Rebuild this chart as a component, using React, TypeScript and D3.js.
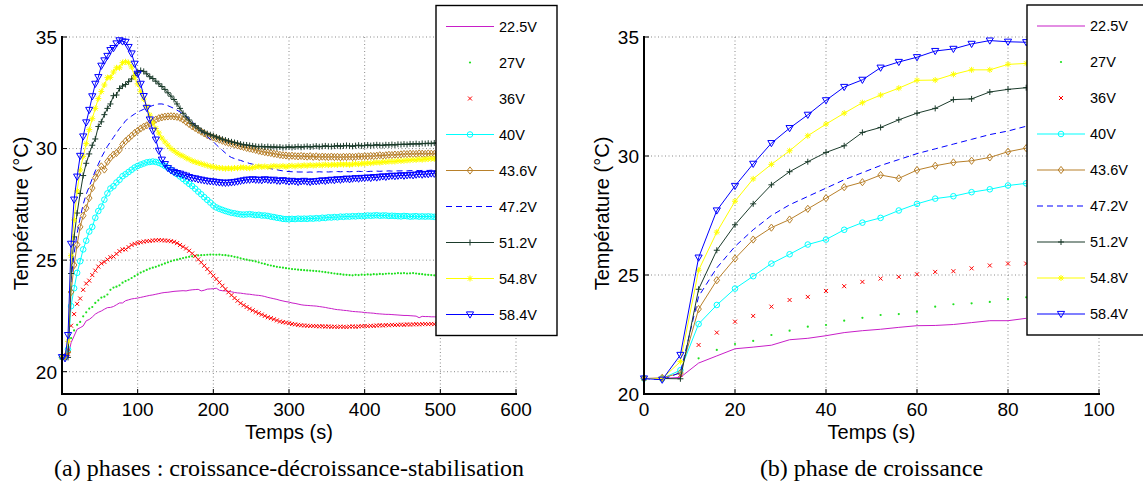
import React from 'react';
import * as d3 from 'd3';

// Sampling period of the measurements (s)
const T_STEP = 4;

const LABELS = ['22.5V', '27V', '36V', '40V', '43.6V', '47.2V', '51.2V', '54.8V', '58.4V'];

const V22_5 = [
  20.65, 20.65, 20.7, 21.3, 21.6, 21.9, 21.97, 22.05, 22.28, 22.34,
  22.45, 22.58, 22.66, 22.72, 22.8, 22.87, 22.88, 22.92, 23.0, 23.08,
  23.08, 23.18, 23.22, 23.26, 23.28, 23.3, 23.33, 23.36, 23.39, 23.42,
  23.44, 23.47, 23.5, 23.53, 23.55, 23.56, 23.58, 23.6, 23.61, 23.62,
  23.63, 23.62, 23.65, 23.67, 23.68, 23.69, 23.62, 23.65, 23.7, 23.71,
  23.72, 23.74, 23.65, 23.63, 23.62, 23.6, 23.58, 23.55, 23.53, 23.52,
  23.5, 23.48, 23.47, 23.45, 23.43, 23.42, 23.4, 23.37, 23.33, 23.3,
  23.27, 23.24, 23.2, 23.17, 23.14, 23.12, 23.08, 23.06, 23.03, 23.0,
  22.98, 22.97, 22.96, 22.95, 22.94, 22.92, 22.9, 22.88, 22.85, 22.83,
  22.8, 22.78, 22.77, 22.75, 22.74, 22.72, 22.7, 22.69, 22.68, 22.67,
  22.65, 22.64, 22.63, 22.62, 22.6, 22.59, 22.58, 22.57, 22.57, 22.56,
  22.55, 22.54, 22.53, 22.52, 22.52, 22.51, 22.5, 22.49, 22.42, 22.48,
  22.47, 22.47, 22.46, 22.46, 22.45,
];

const V27 = [
  20.65, 20.65, 20.9, 21.5, 21.85, 22.1, 22.23, 22.48, 22.66, 22.83,
  22.9, 23.08, 23.2, 23.32, 23.36, 23.46, 23.67, 23.77, 23.81, 23.87,
  23.99, 24.06, 24.12, 24.2, 24.28, 24.36, 24.44, 24.5, 24.56, 24.62,
  24.66, 24.7, 24.75, 24.8, 24.85, 24.9, 24.95, 24.99, 25.02, 25.06,
  25.09, 25.12, 25.15, 25.17, 25.19, 25.21, 25.22, 25.23, 25.24, 25.25,
  25.25, 25.24, 25.25, 25.23, 25.22, 25.2, 25.18, 25.15, 25.12, 25.08,
  25.05, 25.02, 24.99, 24.97, 24.94, 24.9, 24.86, 24.83, 24.79, 24.76,
  24.73, 24.7, 24.68, 24.66, 24.64, 24.62, 24.6, 24.59, 24.57, 24.56,
  24.55, 24.54, 24.53, 24.52, 24.51, 24.5, 24.48, 24.46, 24.44, 24.42,
  24.4, 24.38, 24.37, 24.35, 24.34, 24.33, 24.32, 24.34, 24.33, 24.35,
  24.34, 24.36, 24.35, 24.37, 24.36, 24.38, 24.37, 24.39, 24.4, 24.39,
  24.4, 24.42, 24.41, 24.42, 24.4, 24.41, 24.42, 24.4, 24.38, 24.37,
  24.35, 24.34, 24.33, 24.32, 24.33,
];

const V36 = [
  20.65, 20.65, 20.8, 22.06, 22.58, 23.04, 23.28, 23.67, 23.95, 24.08,
  24.33, 24.53, 24.71, 24.85, 24.92, 25.03, 25.13, 25.16, 25.28, 25.4,
  25.48, 25.48, 25.58, 25.68, 25.73, 25.77, 25.8, 25.83, 25.85, 25.86,
  25.88, 25.89, 25.9, 25.89, 25.88, 25.87, 25.85, 25.82, 25.76, 25.68,
  25.6, 25.52, 25.42, 25.3, 25.18, 25.03, 24.9, 24.75, 24.6, 24.45,
  24.3, 24.15, 24.0, 23.85, 23.7, 23.56, 23.43, 23.3, 23.18, 23.07,
  22.98, 22.9, 22.82, 22.75, 22.68, 22.62, 22.56, 22.5, 22.44, 22.4,
  22.35, 22.3, 22.25, 22.22, 22.2, 22.17, 22.14, 22.12, 22.1, 22.08,
  22.07, 22.06, 22.05, 22.05, 22.04, 22.03, 22.04, 22.02, 22.03, 22.01,
  22.02, 22.0, 22.02, 22.01, 22.0, 22.02, 22.03, 22.01, 22.03, 22.04,
  22.05, 22.04, 22.06, 22.05, 22.07, 22.08, 22.07, 22.09, 22.08, 22.1,
  22.09, 22.1, 22.11, 22.1, 22.12, 22.11, 22.12, 22.13, 22.12, 22.13,
  22.14, 22.13, 22.14, 22.13, 22.14,
];

const V40 = [
  20.65, 20.65, 21.0, 22.94, 23.74, 24.43, 24.95, 25.48, 25.87, 26.28,
  26.49, 26.9, 27.2, 27.4, 27.71, 27.99, 28.21, 28.31, 28.48, 28.6,
  28.76, 28.85, 28.95, 29.05, 29.15, 29.22, 29.28, 29.33, 29.38, 29.4,
  29.42, 29.4, 29.36, 29.3, 29.22, 29.14, 29.05, 28.95, 28.85, 28.75,
  28.64, 28.53, 28.42, 28.32, 28.2, 28.07, 27.95, 27.82, 27.7, 27.58,
  27.45, 27.36, 27.3, 27.25, 27.2, 27.16, 27.12, 27.1, 27.07, 27.05,
  27.04, 27.05, 27.06, 27.04, 27.02, 27.03, 27.0, 27.0, 26.98, 26.95,
  26.93, 26.9, 26.88, 26.85, 26.84, 26.83, 26.85, 26.84, 26.86, 26.85,
  26.86, 26.85, 26.87, 26.86, 26.88, 26.87, 26.9, 26.89, 26.92, 26.91,
  26.93, 26.92, 26.95, 26.94, 26.96, 26.95, 26.97, 26.96, 26.98, 26.97,
  26.98, 27.0, 26.99, 27.0, 27.01, 26.99, 27.0, 27.0, 26.98, 26.99,
  26.98, 26.97, 26.96, 26.98, 26.97, 26.95, 26.96, 26.97, 26.95, 26.96,
  26.95, 26.96, 26.95, 26.94, 26.95,
];

const V43_6 = [
  20.65, 20.68, 20.88, 23.57, 24.78, 25.69, 26.49, 26.99, 27.33, 27.78,
  28.23, 28.69, 28.9, 29.2, 29.06, 29.41, 29.59, 29.73, 29.8, 29.94,
  30.18, 30.33, 30.45, 30.58, 30.7, 30.8, 30.9, 30.98, 31.04, 31.12,
  31.2, 31.3, 31.36, 31.4, 31.43, 31.44, 31.45, 31.44, 31.42, 31.38,
  31.3, 31.2, 31.1, 31.0, 30.92, 30.84, 30.76, 30.68, 30.6, 30.54,
  30.5, 30.45, 30.4, 30.35, 30.3, 30.26, 30.22, 30.18, 30.14, 30.1,
  30.07, 30.03, 30.0, 29.97, 29.94, 29.9, 29.87, 29.84, 29.82, 29.8,
  29.77, 29.75, 29.72, 29.7, 29.69, 29.67, 29.68, 29.66, 29.65, 29.67,
  29.65, 29.64, 29.66, 29.63, 29.65, 29.62, 29.64, 29.63, 29.62, 29.64,
  29.62, 29.63, 29.61, 29.63, 29.62, 29.64, 29.62, 29.63, 29.65, 29.64,
  29.66, 29.65, 29.67, 29.66, 29.68, 29.7, 29.68, 29.7, 29.72, 29.71,
  29.73, 29.72, 29.74, 29.76, 29.75, 29.77, 29.76, 29.76, 29.78, 29.77,
  29.76, 29.78, 29.77, 29.76, 29.78,
];

const V47_2 = [
  20.65, 20.6, 20.9, 24.1, 25.3, 26.2, 26.9, 27.5, 27.95, 28.3,
  28.65, 29.0, 29.3, 29.6, 29.85, 30.1, 30.3, 30.5, 30.7, 30.9,
  31.05, 31.25, 31.35, 31.46, 31.55, 31.63, 31.7, 31.76, 31.82, 31.88,
  31.93, 31.97, 32.0, 32.0, 31.97, 31.92, 31.86, 31.8, 31.72, 31.64,
  31.55, 31.45, 31.33, 31.2, 31.07, 30.93, 30.8, 30.66, 30.53, 30.42,
  30.3, 30.17, 30.04, 29.92, 29.8, 29.68, 29.6, 29.55, 29.5, 29.47,
  29.42, 29.38, 29.33, 29.3, 29.27, 29.24, 29.2, 29.17, 29.14, 29.1,
  29.07, 29.05, 29.02, 29.0, 28.98, 28.97, 28.96, 28.96, 28.95, 28.95,
  28.95, 28.94, 28.95, 28.94, 28.95, 28.96, 28.95, 28.96, 28.95, 28.96,
  28.96, 28.97, 28.96, 28.97, 28.97, 28.96, 28.97, 28.97, 28.98, 28.97,
  28.98, 28.97, 28.98, 28.98, 28.99, 28.98, 28.99, 28.99, 29.0, 28.99,
  29.0, 29.0, 29.0, 29.01, 29.0, 29.01, 29.01, 29.02, 29.01, 29.02,
  29.02, 29.02, 29.03, 29.02, 29.03,
];

const V51_2 = [
  20.65, 20.65, 20.64, 24.4, 26.04, 27.11, 27.99, 28.79, 29.34, 29.76,
  30.15, 30.43, 30.99, 31.2, 31.52, 31.8, 32.0, 32.37, 32.4, 32.69,
  32.8, 32.87, 33.0, 33.12, 33.28, 33.42, 33.5, 33.46, 33.35, 33.22,
  33.14, 33.02, 32.9, 32.78, 32.65, 32.5, 32.35, 32.2, 32.0, 31.8,
  31.58, 31.42, 31.28, 31.12, 31.02, 30.92, 30.8, 30.73, 30.67, 30.62,
  30.57, 30.52, 30.47, 30.42, 30.38, 30.34, 30.3, 30.27, 30.24, 30.2,
  30.17, 30.16, 30.14, 30.12, 30.1, 30.08, 30.1, 30.07, 30.09, 30.06,
  30.08, 30.05, 30.07, 30.04, 30.06, 30.08, 30.05, 30.07, 30.09, 30.06,
  30.08, 30.1, 30.07, 30.09, 30.11, 30.08, 30.1, 30.12, 30.1, 30.09,
  30.11, 30.13, 30.1, 30.12, 30.14, 30.12, 30.1, 30.13, 30.15, 30.12,
  30.14, 30.16, 30.13, 30.15, 30.17, 30.15, 30.14, 30.17, 30.16, 30.18,
  30.16, 30.19, 30.18, 30.2, 30.18, 30.21, 30.2, 30.22, 30.2, 30.23,
  30.22, 30.24, 30.22, 30.25, 30.24,
];

const V54_8 = [
  20.65, 20.65, 21.36, 25.2, 26.8, 28.1, 29.04, 29.65, 30.22, 30.85,
  31.34, 31.8, 32.24, 32.56, 32.85, 33.18, 33.19, 33.43, 33.62, 33.62,
  33.85, 33.89, 33.85, 33.66, 33.2, 32.9, 32.55, 32.22, 31.88, 31.5,
  31.15, 30.9, 30.7, 30.47, 30.3, 30.15, 30.0, 29.9, 29.8, 29.72,
  29.66, 29.58, 29.52, 29.45, 29.4, 29.36, 29.32, 29.28, 29.24, 29.2,
  29.18, 29.15, 29.13, 29.12, 29.1, 29.12, 29.1, 29.13, 29.12, 29.15,
  29.15, 29.13, 29.12, 29.15, 29.18, 29.2, 29.18, 29.2, 29.17, 29.2,
  29.22, 29.2, 29.2, 29.22, 29.18, 29.22, 29.23, 29.2, 29.24, 29.22,
  29.25, 29.23, 29.26, 29.24, 29.25, 29.27, 29.25, 29.28, 29.26, 29.27,
  29.28, 29.27, 29.3, 29.28, 29.3, 29.27, 29.3, 29.32, 29.3, 29.33,
  29.33, 29.35, 29.34, 29.37, 29.38, 29.37, 29.4, 29.4, 29.42, 29.42,
  29.42, 29.45, 29.44, 29.46, 29.47, 29.48, 29.5, 29.49, 29.52, 29.5,
  29.52, 29.53, 29.55, 29.54, 29.55,
];

const V58_4 = [
  20.65, 20.6, 21.64, 25.73, 27.71, 28.74, 29.67, 30.54, 31.17, 31.73,
  32.34, 32.9, 33.2, 33.71, 33.95, 34.15, 34.41, 34.5, 34.71, 34.85,
  34.8, 34.78, 34.55, 34.26, 33.8, 33.35, 32.9, 32.35, 31.82, 31.3,
  30.8, 30.4, 29.9, 29.5, 29.3, 29.12, 29.02, 28.95, 28.9, 28.87,
  28.82, 28.78, 28.72, 28.68, 28.66, 28.62, 28.6, 28.57, 28.55, 28.53,
  28.52, 28.5, 28.48, 28.47, 28.46, 28.47, 28.48, 28.5, 28.52, 28.55,
  28.57, 28.6, 28.6, 28.62, 28.6, 28.6, 28.58, 28.62, 28.6, 28.58,
  28.6, 28.56, 28.55, 28.58, 28.55, 28.52, 28.55, 28.53, 28.5, 28.53,
  28.55, 28.52, 28.5, 28.53, 28.53, 28.55, 28.57, 28.55, 28.58, 28.6,
  28.58, 28.62, 28.6, 28.63, 28.65, 28.62, 28.65, 28.67, 28.65, 28.68,
  28.68, 28.7, 28.68, 28.72, 28.7, 28.73, 28.75, 28.73, 28.76, 28.78,
  28.76, 28.78, 28.8, 28.78, 28.8, 28.82, 28.8, 28.83, 28.85, 28.83,
  28.86, 28.85, 28.88, 28.87, 28.88,
];

const SERIES = [V22_5, V27, V36, V40, V43_6, V47_2, V51_2, V54_8, V58_4];

const X_TICKS_A = [0, 100, 200, 300, 400, 500, 600];
const X_TICKS_B = [0, 20, 40, 60, 80, 100];
const Y_TICKS = [20, 25, 30, 35];
const N_POINTS_B = 22; // growth phase: first 22 samples (0..84 s)

type Mk = 'none' | 'dot' | 'x' | 'circle' | 'diamond' | 'plus' | 'star' | 'tri';
const STYLES: { color: string; line: boolean; dash?: string; marker: Mk }[] = [
  { color: '#c81ec8', line: true, marker: 'none' },
  { color: '#1fe01f', line: false, marker: 'dot' },
  { color: '#ff0000', line: false, marker: 'x' },
  { color: '#00ffff', line: true, marker: 'circle' },
  { color: '#b8802a', line: true, marker: 'diamond' },
  { color: '#0000ff', line: true, dash: '6,4', marker: 'none' },
  { color: '#1b3b2b', line: true, marker: 'plus' },
  { color: '#ffff00', line: true, marker: 'star' },
  { color: '#0000ff', line: true, marker: 'tri' },
];

const SANS = '"Liberation Sans", Arial, Helvetica, sans-serif';

function Marker({ kind, x, y, color }: { kind: Mk; x: number; y: number; color: string }) {
  const t = `translate(${x},${y})`;
  switch (kind) {
    case 'dot':
      return <circle cx={x} cy={y} r={1.1} fill={color} />;
    case 'x':
      return <path transform={t} d="M-2,-2L2,2M-2,2L2,-2" stroke={color} strokeWidth={1} fill="none" />;
    case 'circle':
      return <circle cx={x} cy={y} r={2.8} stroke={color} strokeWidth={1} fill="none" />;
    case 'diamond':
      return <path transform={t} d="M0,-3.6L2.8,0L0,3.6L-2.8,0Z" stroke={color} strokeWidth={1} fill="none" />;
    case 'plus':
      return <path transform={t} d="M-3,0H3M0,-3V3" stroke={color} strokeWidth={1} fill="none" />;
    case 'star':
      return (
        <path transform={t} d="M-3,0H3M0,-3V3M-2.2,-2.2L2.2,2.2M-2.2,2.2L2.2,-2.2" stroke={color} strokeWidth={1} fill="none" />
      );
    case 'tri':
      return <path transform={t} d="M-3.6,-2.6L3.6,-2.6L0,3.6Z" stroke={color} strokeWidth={1} fill="none" />;
    default:
      return null;
  }
}

type ChartProps = {
  xr: [number, number];
  yr: [number, number];
  xDomain: [number, number];
  yDomain: [number, number];
  xTicks: number[];
  nPoints: number;
  legendX: number;
  legendY: number;
  yLabelX: number;
  caption: string;
};

function Chart(p: ChartProps) {
  const x = d3.scaleLinear().domain(p.xDomain).range(p.xr);
  const y = d3.scaleLinear().domain(p.yDomain).range(p.yr);
  const [xl, xrgt] = p.xr;
  const [yb, yt] = p.yr;
  const topY = y(35);
  const cx = (xl + xrgt) / 2;
  const lineGen = d3
    .line<number>()
    .x((_, i) => x(i * T_STEP))
    .y((v) => y(v));

  return (
    <g>
      {/* grid */}
      {p.xTicks.filter((t) => t !== p.xDomain[0]).map((t) => (
        <line key={'gx' + t} x1={x(t)} x2={x(t)} y1={topY} y2={yb} stroke="#8a8a8a" strokeWidth={1} strokeDasharray="1,2.5" />
      ))}
      {Y_TICKS.map((t) => (
        <line key={'gy' + t} x1={xl} x2={xrgt} y1={y(t)} y2={y(t)} stroke="#8a8a8a" strokeWidth={1} strokeDasharray="1,2.5" />
      ))}
      {/* series */}
      {SERIES.map((vals, si) => {
        const st = STYLES[si];
        const data = vals.slice(0, p.nPoints);
        return (
          <g key={'s' + si}>
            {st.line && (
              <path d={lineGen(data) || ''} fill="none" stroke={st.color} strokeWidth={1} strokeDasharray={st.dash} />
            )}
            {st.marker !== 'none' &&
              data.map((v, i) => <Marker key={i} kind={st.marker} x={x(i * T_STEP)} y={y(v)} color={st.color} />)}
          </g>
        );
      })}
      {/* axes */}
      <line x1={xl} x2={xl} y1={topY - 1} y2={yb + 1} stroke="#000" strokeWidth={2} />
      <line x1={xl - 1} x2={xrgt + 1} y1={yb} y2={yb} stroke="#000" strokeWidth={2} />
      {p.xTicks.map((t) => (
        <g key={'tx' + t}>
          <line x1={x(t)} x2={x(t)} y1={yb} y2={yb - 5} stroke="#000" strokeWidth={1} />
          <text x={x(t)} y={yb + 21.5} textAnchor="middle" fontFamily={SANS} fontSize={19} fill="#000">
            {t}
          </text>
        </g>
      ))}
      {Y_TICKS.map((t) => (
        <g key={'ty' + t}>
          <line x1={xl} x2={xl + 5} y1={y(t)} y2={y(t)} stroke="#000" strokeWidth={1} />
          <text x={xl - 5} y={y(t)} dy="0.36em" textAnchor="end" fontFamily={SANS} fontSize={19} fill="#000">
            {t}
          </text>
        </g>
      ))}
      <text x={cx} y={438.5} textAnchor="middle" fontFamily={SANS} fontSize={20} fill="#000">
        Temps (s)
      </text>
      <text
        transform={`translate(${p.yLabelX},${(yt + yb) / 2 - 2}) rotate(-90)`}
        textAnchor="middle"
        fontFamily={SANS}
        fontSize={20}
        fill="#000"
      >
        Température (°C)
      </text>
      {/* legend */}
      <g transform={`translate(${p.legendX},${p.legendY})`}>
        <rect x={0} y={0} width={121} height={330} fill="#fff" stroke="#000" strokeWidth={1.4} />
        {LABELS.map((lab, i) => {
          const st = STYLES[i];
          const ly = 21 + i * 36;
          return (
            <g key={lab}>
              {st.line && (
                <line x1={10} x2={58} y1={ly} y2={ly} stroke={st.color} strokeWidth={1.2} strokeDasharray={st.dash} />
              )}
              <Marker kind={st.marker} x={34} y={ly} color={st.color} />
              <text x={63} y={ly} dy="0.36em" fontFamily={SANS} fontSize={14.5} fill="#000">
                {lab}
              </text>
            </g>
          );
        })}
      </g>
      <text x={cx} y={476} textAnchor="middle" fontFamily='"Liberation Serif", "Times New Roman", serif' fontSize={24} fill="#000">
        {p.caption}
      </text>
    </g>
  );
}

export default function App() {
  const nA = V58_4.length;
  return (
    <svg
      width={1143}
      height={487}
      style={{ position: 'absolute', left: 0, top: 0, background: '#fff' }}
      xmlns="http://www.w3.org/2000/svg"
    >
      <rect x={0} y={0} width={1143} height={487} fill="#fff" />
      <Chart
        xr={[62, 516]}
        yr={[394, 37]}
        xDomain={[0, 600]}
        yDomain={[19, 35]}
        xTicks={X_TICKS_A}
        nPoints={nA}
        legendX={436}
        legendY={5.5}
        yLabelX={28}
        caption="(a)  phases : croissance-décroissance-stabilisation"
      />
      <Chart
        xr={[644, 1099]}
        yr={[394, 37]}
        xDomain={[0, 100]}
        yDomain={[20, 35]}
        xTicks={X_TICKS_B}
        nPoints={N_POINTS_B}
        legendX={1027}
        legendY={5}
        yLabelX={609}
        caption="(b)  phase de croissance"
      />
    </svg>
  );
}
